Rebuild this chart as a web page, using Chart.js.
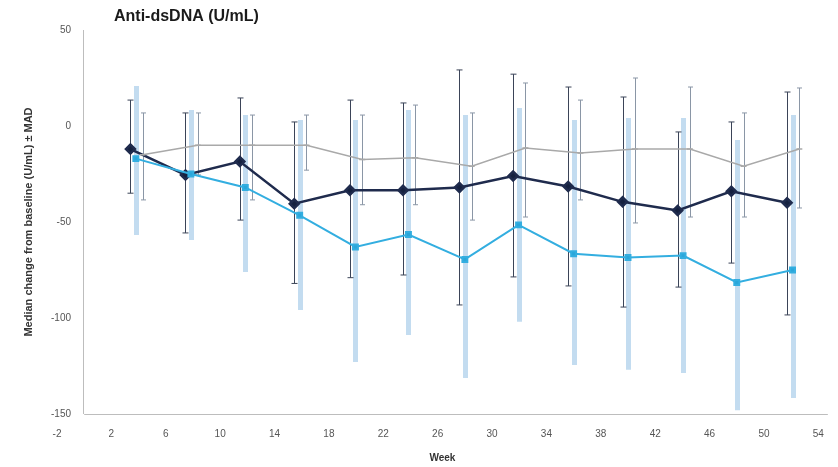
<!DOCTYPE html>
<html lang="en">
<head>
    <meta charset="UTF-8">
    <title>Anti-dsDNA (U/mL)</title>
    <style>
        body {
            margin: 0;
            padding: 0;
            background: #fff;
        }
        .chart-container {
            position: relative;
            width: 838px;
            height: 467px;
        }
    </style>
    <script src="https://cdn.jsdelivr.net/npm/chart.js"></script>
</head>
<body>
    <div class="chart-container">
        <canvas id="dsdnaChart"></canvas>
    </div>
    <script>
        // week ticks on the x axis (Excel style: min -2, major unit 4)
        var weekTicks = [-2, 2, 6, 10, 14, 18, 22, 26, 30, 34, 38, 42, 46, 50, 54];

        // visit weeks per series (slightly offset so the bars don't overlap)
        var navyWeeks = [3.4, 7.45, 11.45, 15.45, 19.55, 23.45, 27.6, 31.55, 35.6, 39.6, 43.65, 47.6, 51.7];
        var blueWeeks = [3.8, 7.85, 11.85, 15.85, 19.95, 23.85, 28.0, 31.95, 36.0, 40.0, 44.05, 48.0, 52.1];
        var greyWeeks = [4.3, 8.35, 12.35, 16.35, 20.45, 24.35, 28.5, 32.45, 36.5, 40.5, 44.55, 48.5, 52.6];

        // median change from baseline
        var navyMedian = [-12, -25.5, -18.5, -40.5, -33.5, -33.5, -32, -26, -31.5, -39.5, -44, -34, -40];
        var blueMedian = [-17, -25, -32, -46.5, -63, -56.5, -69.5, -51.5, -66.5, -68.5, -67.5, -81.5, -75];
        var greyMedian = [-15, -10, -10, -10, -17.5, -16.5, -21, -11.5, -14, -12, -12, -21, -12];

        // error bar ends
        var navyHigh = [13.5, 6.8, 14.6, 2.1, 13.5, 12, 29.2, 27, 20.3, 15.1, -3.1, 2.1, 17.7];
        var navyLow = [-35, -55.7, -49, -82, -79, -77.6, -93.2, -78.6, -83.3, -94.3, -83.9, -71.4, -98.4];
        var blueHigh = [20.8, 8.3, 5.7, 3.1, 3.1, 8.3, 5.7, 9.4, 3.1, 4.2, 4.2, -7.3, 5.7];
        var blueLow = [-56.8, -59.4, -76, -95.8, -122.9, -108.9, -131.3, -102, -124.5, -127, -128.6, -148, -141.7];
        var greyHigh = [6.8, 6.8, 5.7, 5.7, 5.7, 10.9, 6.8, 22.4, 13.5, 25, 20.3, 6.8, 19.8];
        var greyLow = [-38.5, -25.5, -38.5, -23, -41, -41, -49, -47.4, -38.5, -50.5, -47.4, -47.4, -42.7];

        function points(xs, ys) {
            return xs.map(function (x, i) { return { x: x, y: ys[i] }; });
        }

        // axis lines: vertical axis crosses at week 0, horizontal at the y minimum
        var axisLines = {
            id: 'axisLines',
            beforeDatasetsDraw: function (chart) {
                var ctx = chart.ctx;
                var xs = chart.scales.x, ys = chart.scales.y;
                var x0 = xs.getPixelForValue(0);
                var yTop = ys.getPixelForValue(50), yBot = ys.getPixelForValue(-150);
                ctx.save();
                ctx.strokeStyle = '#bdbdbd';
                ctx.lineWidth = 1;
                ctx.beginPath();
                ctx.moveTo(Math.round(x0) - 0.5, yTop);
                ctx.lineTo(Math.round(x0) - 0.5, yBot);
                ctx.moveTo(x0, Math.round(yBot) + 0.5);
                ctx.lineTo(chart.chartArea.right, Math.round(yBot) + 0.5);
                ctx.stroke();
                ctx.restore();
            }
        };

        // vertical error bars taken from errHigh / errLow on each dataset
        var errorBars = {
            id: 'errorBars',
            beforeDatasetsDraw: function (chart) {
                var ctx = chart.ctx;
                var xs = chart.scales.x, ys = chart.scales.y;
                ctx.save();
                chart.data.datasets.forEach(function (ds) {
                    if (!ds.errHigh) return;
                    ctx.strokeStyle = ds.errColor;
                    ctx.lineWidth = ds.errWidth;
                    ds.data.forEach(function (p, i) {
                        var px = Math.round(xs.getPixelForValue(p.x)) + 0.5;
                        var hi = ys.getPixelForValue(ds.errHigh[i]);
                        var lo = ys.getPixelForValue(ds.errLow[i]);
                        ctx.beginPath();
                        ctx.moveTo(px, hi);
                        ctx.lineTo(px, lo);
                        if (ds.capWidth) {
                            ctx.moveTo(px - ds.capWidth, hi);
                            ctx.lineTo(px + ds.capWidth, hi);
                            ctx.moveTo(px - ds.capWidth, lo);
                            ctx.lineTo(px + ds.capWidth, lo);
                        }
                        ctx.stroke();
                    });
                });
                ctx.restore();
            }
        };

        // chart heading, drawn in the top left corner
        var heading = {
            id: 'heading',
            afterDraw: function (chart) {
                var ctx = chart.ctx;
                ctx.save();
                ctx.font = 'bold 16px "Liberation Sans", Arial, sans-serif';
                ctx.fillStyle = '#1a1a1a';
                ctx.textAlign = 'left';
                ctx.textBaseline = 'middle';
                ctx.fillText('Anti-dsDNA (U/mL)', 114, 17);
                ctx.restore();
            }
        };

        var ctx1 = document.getElementById('dsdnaChart').getContext('2d');
        var dsdnaChart = new Chart(ctx1, {
            type: 'scatter',
            data: {
                datasets: [
                    {
                        label: 'Series 3',
                        data: points(greyWeeks, greyMedian),
                        showLine: true,
                        borderColor: '#a9a9a9',
                        backgroundColor: '#9a9a9a',
                        borderWidth: 1.5,
                        pointStyle: 'line',
                        pointRadius: 3,
                        pointBorderWidth: 1.5,
                        errHigh: greyHigh,
                        errLow: greyLow,
                        errColor: '#8a96a6',
                        errWidth: 1,
                        capWidth: 2.5
                    },
                    {
                        label: 'Series 2',
                        data: points(blueWeeks, blueMedian),
                        showLine: true,
                        borderColor: '#33aee0',
                        backgroundColor: '#2aa6da',
                        borderWidth: 2,
                        pointStyle: 'rect',
                        pointRadius: 3.5,
                        errHigh: blueHigh,
                        errLow: blueLow,
                        errColor: 'rgba(175, 208, 235, 0.75)',
                        errWidth: 5,
                        capWidth: 0
                    },
                    {
                        label: 'Series 1',
                        data: points(navyWeeks, navyMedian),
                        showLine: true,
                        borderColor: '#1f2b4d',
                        backgroundColor: '#15213f',
                        borderWidth: 2.5,
                        pointStyle: 'rectRot',
                        pointRadius: 4.5,
                        errHigh: navyHigh,
                        errLow: navyLow,
                        errColor: '#3b4458',
                        errWidth: 1,
                        capWidth: 3
                    }
                ]
            },
            options: {
                responsive: true,
                maintainAspectRatio: false,
                animation: false,
                layout: {
                    padding: { top: 30, right: 8, bottom: 0, left: 0 }
                },
                plugins: {
                    legend: { display: false },
                    tooltip: { enabled: false }
                },
                scales: {
                    x: {
                        type: 'linear',
                        min: -2,
                        max: 54.7,
                        afterBuildTicks: function (scale) {
                            scale.ticks = weekTicks.map(function (v) { return { value: v }; });
                        },
                        afterFit: function (scale) { scale.height = 53; },
                        grid: { display: false, drawTicks: false },
                        border: { display: false },
                        ticks: {
                            padding: 14,
                            maxRotation: 0,
                            autoSkip: false,
                            color: '#555',
                            font: { family: '"Liberation Sans", Arial, sans-serif', size: 10 }
                        },
                        title: {
                            display: true,
                            text: 'Week',
                            color: '#333',
                            padding: { top: 0, bottom: 3 },
                            font: { family: '"Liberation Sans", Arial, sans-serif', size: 10, weight: 'bold' }
                        }
                    },
                    y: {
                        min: -150,
                        max: 50,
                        ticks: {
                            stepSize: 50,
                            mirror: true,
                            crossAlign: 'far',
                            padding: -6,
                            color: '#555',
                            font: { family: '"Liberation Sans", Arial, sans-serif', size: 10 }
                        },
                        afterFit: function (scale) { scale.width = 57; },
                        grid: { display: false, drawTicks: false },
                        border: { display: false },
                        title: {
                            display: true,
                            text: 'Median change from baseline (U/mL) ± MAD',
                            color: '#333',
                            padding: { top: 22, bottom: 0 },
                            font: { family: '"Liberation Sans", Arial, sans-serif', size: 11, weight: 'bold' }
                        }
                    }
                }
            },
            plugins: [axisLines, errorBars, heading]
        });
    </script>
</body>
</html>
